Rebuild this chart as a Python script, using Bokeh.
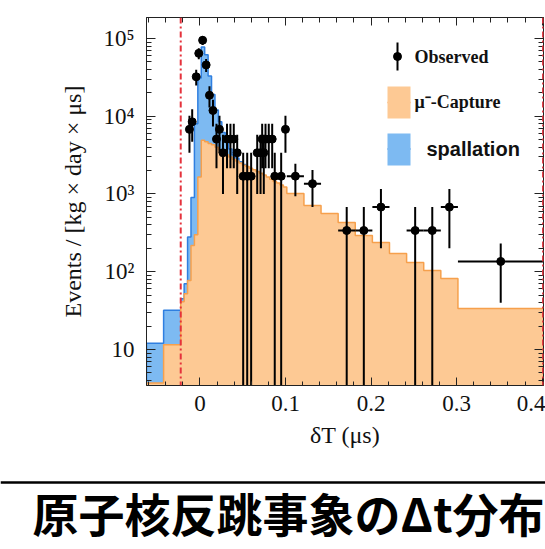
import math
from bokeh.plotting import figure
from bokeh.models import (Range1d, LogAxis, LinearAxis, FixedTicker, Span, Label,
                          ColumnDataSource, BoxAnnotation)
from bokeh.embed import file_html
from bokeh.resources import INLINE

# ---------------- data ----------------
bin_edges = [-0.0625, -0.0425, -0.0225, -0.0185, -0.0145, -0.0105, -0.0065, -0.0025,
             0.0015, 0.0055, 0.0095, 0.0135, 0.0175, 0.0215, 0.0255, 0.0295, 0.0335,
             0.0375, 0.0415, 0.0455, 0.0495, 0.0535, 0.0575, 0.0615, 0.0655, 0.0695,
             0.0735, 0.0775, 0.0815, 0.0855, 0.0895, 0.0935, 0.0975, 0.1015, 0.1215,
             0.1415, 0.1615, 0.1815, 0.2015, 0.2215, 0.2415, 0.2615, 0.2815, 0.3015, 0.4015]
capture = [3.7, 11.5, 41, 52, 77, 218, 300, 1650, 4900, 4700, 4450, 4300, 4000, 3700,
           3400, 3200, 3000, 2800, 2650, 2500, 2350, 2250, 2150, 2050, 1950, 1850, 1750,
           1650, 1550, 1450, 1380, 1300, 1230, 1014, 711, 561, 430, 293, 238, 172, 131,
           104, 82, 33.7]
spallation_edges = bin_edges[:22]
spallation_total = [12, 32, 45, 70, 280, 900, 8000, 31000, 78000, 62000, 33000, 19000,
                    12000, 8500, 6200, 4700, 3800, 3200, 2900, 2600, 2400]

obs_x = [-0.0123, -0.0091, -0.0044, -0.0014, 0.0031, 0.0072, 0.0111, 0.0152, 0.0193,
         0.0228, 0.0269, 0.0316, 0.0356, 0.0395, 0.0435, 0.0505, 0.0552, 0.0598,
         0.0669, 0.0708, 0.0746, 0.0727, 0.0766, 0.0804, 0.0844, 0.0874, 0.0949,
         0.0999, 0.1115, 0.1315, 0.1715, 0.1915, 0.2115, 0.2515, 0.2715, 0.2915, 0.3515]
obs_y = [6780, 8470, 32200, 64400, 94900, 45700, 18600, 11860, 5080, 6780, 3390, 5080,
         5080, 5080, 3390, 1690, 1690, 1690, 3390, 3390, 3390, 5080, 5080, 5080, 5080,
         1690, 1690, 6780, 1695, 1356, 339, 339, 678, 339, 339, 678, 135.6]
obs_xerr = [0.002] * 28 + [0.01] * 8 + [0.05]
obs_ylo = [3390, 4680, 24800, 53900, 82200, 37000, 13000, 7370, 2150, 3390, 1000, 2150,
           2150, 2150, 1000, 1, 1, 1, 1000, 1000, 1000, 2150, 2150, 2150, 2150, 1, 1,
           3390, 936, 678, 1, 1, 200, 1, 1, 200, 40]
obs_yhi = [10160, 12260, 39600, 74800, 107600, 54500, 24260, 16340, 8010, 10160, 5780,
           8010, 8010, 8010, 5780, 3380, 3380, 3380, 5780, 5780, 5780, 8010, 8010, 8010,
           8010, 3380, 3380, 10160, 2454, 2034, 678, 678, 1156, 678, 678, 1156, 231]

x_ticks = [0, 0.1, 0.2, 0.3, 0.4]
x_tick_labels = ["0", "0.1", "0.2", "0.3", "0.4"]
y_ticks = [10, 100, 1000, 10000, 100000]
y_tick_labels = ["10", "10²", "10³", "10⁴", "10⁵"]
cut_window = [-0.0225, 0.401]

title_text = "原子核反跳事象のΔt分布"
x_label = "δT (μs)"
y_label = "Events / [kg × day × μs]"
legend_labels = ["Observed", "μ⁻-Capture", "spallation"]

# ---------------- style ----------------
ORANGE_FILL = "#FDC994"
ORANGE_LINE = "#F6A04C"
BLUE_FILL = "#7DBAF2"
BLUE_LINE = "#2F7FE0"
RED = "#E5323C"
SERIF = "Liberation Serif"
FRAME = "#222222"

X0, X1 = -0.0625, 0.4015
Y0, Y1 = 3.44, 1.862e5
W, H1, H2 = 545, 460, 89
FL, FT, FW, FH = 146, 17, 397, 368


def dx(px):
    """page pixel -> data x (for the hand-placed legend)"""
    return X0 + (px - FL) / FW * (X1 - X0)


def dy(py):
    ly0, ly1 = math.log10(Y0), math.log10(Y1)
    return 10 ** (ly1 - (py - FT) / FH * (ly1 - ly0))


p = figure(width=W, height=H1, x_range=Range1d(X0, X1),
           y_range=Range1d(Y0, Y1), y_axis_type="log", output_backend="svg",
           toolbar_location=None, min_border_left=FL, min_border_right=W - FL - FW,
           min_border_top=FT, min_border_bottom=H1 - FT - FH)
p.grid.visible = False
p.outline_line_color = FRAME
p.background_fill_color = "white"
p.border_fill_color = "white"


def step_outline(edges, vals, base=1.0):
    xs, ys = [edges[0]], [base]
    for i, v in enumerate(vals):
        xs += [edges[i], edges[i + 1]]
        ys += [v, v]
    xs.append(edges[len(vals)])
    ys.append(base)
    return xs, ys


# spallation (total) behind
sx, sy = step_outline(spallation_edges, spallation_total)
p.patch(sx, sy, fill_color=BLUE_FILL, line_color=None)
p.line(sx, sy, line_color=BLUE_LINE, line_width=1.5)

# capture
cx, cy = step_outline(bin_edges, capture)
p.patch(cx, cy, fill_color=ORANGE_FILL, line_color=None)
p.line(cx, cy, line_color=ORANGE_LINE, line_width=1.5)

for c in cut_window:
    p.add_layout(Span(location=c, dimension="height", line_color=RED, line_width=2,
                      line_dash="6 3 2 3"))

# observed
src = ColumnDataSource(dict(
    x=obs_x, y=obs_y,
    xl=[a - b for a, b in zip(obs_x, obs_xerr)],
    xr=[a + b for a, b in zip(obs_x, obs_xerr)],
    lo=obs_ylo, hi=obs_yhi))
p.segment(x0="x", y0="lo", x1="x", y1="hi", source=src, line_color="black", line_width=2)
p.segment(x0="xl", y0="y", x1="xr", y1="y", source=src, line_color="black", line_width=2)
p.scatter(x="x", y="y", source=src, size=8, marker="circle", fill_color="black",
          line_color="black")

# axes
xminor = [round(-0.06 + 0.02 * i, 2) for i in range(24)]
xminor = [m for m in xminor if round(m * 10, 6) != round(m * 10)]
yminor = [m * 10 ** e for e in range(0, 6) for m in range(2, 10)]

xt = FixedTicker(ticks=x_ticks, minor_ticks=xminor)
yt = FixedTicker(ticks=y_ticks, minor_ticks=yminor)

xa = p.xaxis[0]
ya = p.yaxis[0]
xa.ticker = xt
ya.ticker = yt
xa.major_label_overrides = dict(zip(x_ticks, x_tick_labels))
ya.major_label_overrides = dict(zip(y_ticks, y_tick_labels))
xa.axis_label = x_label
ya.axis_label = y_label
for ax, tin, mtin in [(xa, 8, 4), (ya, 9, 5)]:
    ax.major_tick_in = tin
    ax.major_tick_out = 0
    ax.minor_tick_in = mtin
    ax.minor_tick_out = 0
    ax.axis_line_color = FRAME
    ax.major_tick_line_color = FRAME
    ax.minor_tick_line_color = FRAME
    ax.major_label_text_font = SERIF
    ax.major_label_text_font_size = "23px"
    ax.major_label_text_color = "#111111"
    ax.axis_label_text_font = SERIF
    ax.axis_label_text_font_size = "24px"
    ax.axis_label_text_font_style = "normal"
    ax.axis_label_text_color = "#111111"
xa.major_label_standoff = 10
xa.axis_label_standoff = 8
ya.major_label_standoff = 12
ya.axis_label_standoff = 14

top = LinearAxis(ticker=xt)
right = LogAxis(ticker=yt)
for ax, tin, mtin in [(top, 8, 5), (right, 9, 5)]:
    ax.major_tick_in = tin
    ax.major_tick_out = 0
    ax.minor_tick_in = mtin
    ax.minor_tick_out = 0
    ax.axis_line_color = FRAME
    ax.major_tick_line_color = FRAME
    ax.minor_tick_line_color = FRAME
    ax.major_label_text_font_size = "1px"
    ax.major_label_text_alpha = 0.0
    ax.major_label_standoff = 0
p.add_layout(top, "above")
p.add_layout(right, "right")

# legend (drawn by hand)
p.segment(x0=[dx(397)], y0=[dy(42)], x1=[dx(397)], y1=[dy(70)], line_color="black",
          line_width=2)
p.scatter(x=[dx(397)], y=[dy(56)], size=8, marker="circle", fill_color="black",
          line_color="black")
p.add_layout(Label(x=dx(414), y=dy(56), text=legend_labels[0], text_font=SERIF,
                   text_font_style="bold", text_font_size="18px", text_baseline="middle",
                   text_color="#111111"))
p.add_layout(BoxAnnotation(left=dx(387), right=dx(410), top=dy(86), bottom=dy(118),
                           fill_color=ORANGE_FILL, fill_alpha=1.0, line_color=None))
p.segment(x0=[dx(387)], y0=[dy(102)], x1=[dx(410)], y1=[dy(102)], line_color=ORANGE_LINE,
          line_width=1.5)
p.add_layout(Label(x=dx(414), y=dy(101), text=legend_labels[1], text_font=SERIF,
                   text_font_style="bold", text_font_size="18px", text_baseline="middle",
                   text_color="#111111"))
p.add_layout(BoxAnnotation(left=dx(387), right=dx(410), top=dy(133), bottom=dy(165),
                           fill_color=BLUE_FILL, fill_alpha=1.0, line_color=None))
p.segment(x0=[dx(387)], y0=[dy(148.5)], x1=[dx(410)], y1=[dy(148.5)], line_color=BLUE_LINE,
          line_width=1.5)
p.add_layout(Label(x=dx(426), y=dy(148.5), text=legend_labels[2], text_font="Liberation Sans",
                   text_font_style="bold", text_font_size="20px", text_baseline="middle",
                   text_color="#111111"))

# slide title panel (separate root, stacked below the chart)
p2 = figure(width=W, height=H2, x_range=Range1d(0, W), y_range=Range1d(H2, 0),
            output_backend="svg", toolbar_location=None, min_border=0)
p2.axis.visible = False
p2.grid.visible = False
p2.outline_line_color = None
p2.add_layout(Span(location=22, dimension="width", line_color="black", line_width=2.5))
p2.add_layout(Label(x=32, y=51, text=title_text, text_font="Noto Sans CJK JP",
                    text_font_style="bold", text_font_size="46px", text_baseline="middle",
                    text_color="black"))

open("out.html", "w").write(file_html([p, p2], INLINE))
